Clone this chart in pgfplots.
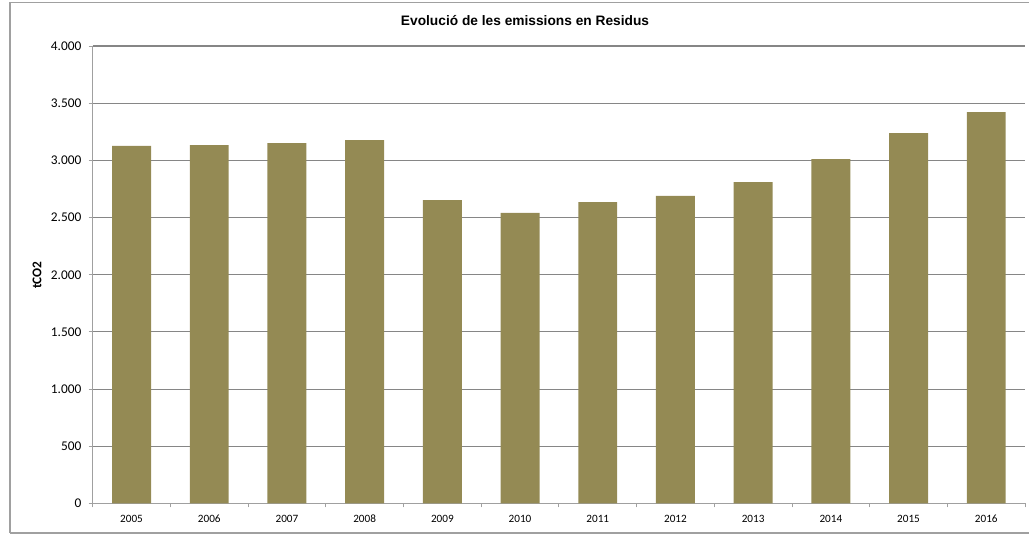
\documentclass[border=0pt]{standalone}
\usepackage{fontspec}
\setmainfont{Carlito}
\newfontfamily\arialf{Liberation Sans}
\usepackage{pgfplots}
\pgfplotsset{compat=1.18}
\definecolor{barc}{RGB}{148,138,84}
\definecolor{gridc}{RGB}{134,134,134}
\definecolor{axc}{RGB}{160,160,160}
\begin{document}
\begin{tikzpicture}[x=0.75pt,y=0.75pt]
\useasboundingbox (0,0) rectangle (1029,534);
\draw[axc, line width=0.9pt] (10,1) -- (10,531.5) -- (1040,531.5);
\draw[axc, line width=0.9pt] (10,1) -- (1040,1);
\node[font=\arialf\bfseries\fontsize{10.3}{12}\selectfont] at (525,513) {Evolució de les emissions en Residus};
\node[rotate=90, font=\bfseries\fontsize{10}{12}\selectfont] at (37,259) {tCO2};
\begin{axis}[
  at={(92.7*0.75pt,30.5*0.75pt)}, anchor=south west,
  scale only axis, width=699.3pt, height=343.1pt,
  ymin=0, ymax=4000, xmin=-0.5, xmax=11.5,
  ytick={0,500,...,4000},
  /pgf/number format/use comma,
  /pgf/number format/1000 sep={.},
  /pgf/number format/assume math mode=true,
  yticklabel style={font=\fontsize{10}{12}\selectfont, xshift=-2pt},
  xtick={-0.5,0.5,...,11.5},
  x tick label as interval,
  xticklabels={2005,2006,2007,2008,2009,2010,2011,2012,2013,2014,2015,2016},
  xticklabel style={font=\fontsize{8.4}{10}\selectfont, yshift=-2.3pt},
  tick style={axc, line width=0.7pt}, tick align=outside, major tick length=3pt,
  ytick pos=left, xtick pos=bottom,
  ymajorgrids, xmajorgrids=false, grid style={gridc, line width=0.8pt},
  axis x line*=bottom, axis y line*=left,
  axis line style={axc, line width=0.8pt},
  x axis line style={-}, y axis line style={-},
  separate axis lines,
  bar width=29.2pt,
]
\addplot[ybar, fill=barc, draw=none] coordinates {
(0,3128) (1,3134) (2,3152) (3,3178) (4,2653) (5,2542) (6,2636) (7,2689) (8,2811) (9,3012) (10,3239) (11,3423)};
\end{axis}
\end{tikzpicture}
\end{document}
